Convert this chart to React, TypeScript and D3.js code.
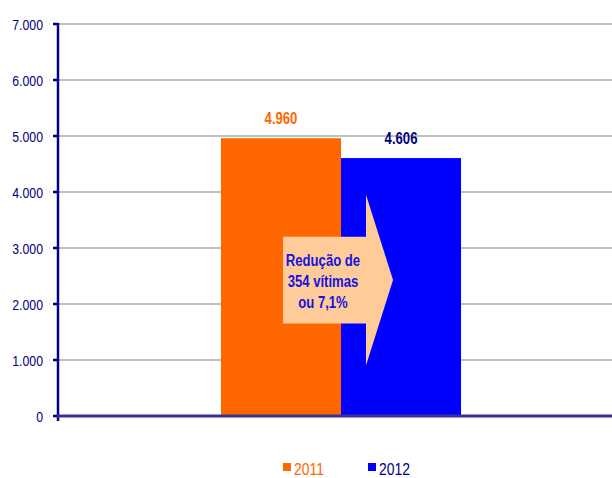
import React from "react";
import * as d3 from "d3";

const categories = ["Vítimas"];
const seriesNames = ["2011", "2012"];
const seriesValues = [4960, 4606];
const valueLabels = ["4.960", "4.606"];
const yTicks = [0, 1000, 2000, 3000, 4000, 5000, 6000, 7000];
const yTickLabels = ["0", "1.000", "2.000", "3.000", "4.000", "5.000", "6.000", "7.000"];
const arrowText = ["Redução de", "354 vítimas", "ou 7,1%"];

const colors = ["#FF6600", "#0000FF"];
const labelColors = ["#FF6600", "#000080"];
const FONT = "'Liberation Sans', Arial, sans-serif";
const SQUEEZE = 0.82;

function NText(props: {
  x: number; y: number; anchor?: "start" | "middle" | "end"; size: number; bold?: boolean; fill: string; children: string;
}) {
  return (
    <text
      transform={`translate(${props.x},${props.y}) scale(${SQUEEZE},1)`}
      textAnchor={props.anchor || "start"}
      fontFamily={FONT}
      fontWeight={props.bold ? "bold" : "normal"}
      fontSize={props.size}
      fill={props.fill}
    >
      {props.children}
    </text>
  );
}

export default function App() {
  const W = 612, H = 478;
  const left = 58, right = 624, top = 24, bottom = 416;
  const y = d3.scaleLinear().domain([0, 7000]).range([bottom, top]);
  const x0 = d3.scaleBand().domain(categories).range([left, right]).paddingInner(0).paddingOuter(0.679);
  const x1 = d3.scaleBand().domain(seriesNames).range([0, x0.bandwidth()]);

  const gx = x0(categories[0])!;
  const cx = gx + x0.bandwidth() / 2;
  const bodyL = cx - 58, bodyR = cx + 25, bodyT = y(3200), bodyB = y(1650);
  const headT = y(3950), headB = y(900), tipX = cx + 52, tipY = y(2430);
  const arrowPath = `M${bodyL},${bodyT} L${bodyR},${bodyT} L${bodyR},${headT} L${tipX},${tipY} L${bodyR},${headB} L${bodyR},${bodyB} L${bodyL},${bodyB} Z`;

  return (
    <svg width={W} height={H} style={{ position: "absolute", left: 0, top: 0, background: "#fff" }}>
      {yTicks.slice(1).map((t) => (
        <line key={"g" + t} x1={left} x2={W} y1={y(t)} y2={y(t)} stroke="#C0C0C0" strokeWidth={2} />
      ))}
      {seriesNames.map((s, i) => (
        <rect key={s} x={gx + x1(s)!} y={y(seriesValues[i])} width={x1.bandwidth()} height={bottom - y(seriesValues[i])} fill={colors[i]} />
      ))}
      {seriesNames.map((s, i) => (
        <NText key={"l" + s} x={gx + x1(s)! + x1.bandwidth() / 2} y={y(seriesValues[i]) - 14} anchor="middle"
          size={16} bold fill={labelColors[i]}>{valueLabels[i]}</NText>
      ))}
      <path d={arrowPath} fill="#FFCC99" />
      {arrowText.map((t, i) => (
        <NText key={"a" + i} x={cx - 18} y={y(2670) + i * 21} anchor="middle" size={16} bold fill="#1414E0">{t}</NText>
      ))}
      <line x1={left} x2={left} y1={top - 1} y2={bottom + 5} stroke="#000080" strokeWidth={2.5} />
      {yTicks.map((t, i) => (
        <g key={"t" + t}>
          <line x1={left - 5} x2={left} y1={y(t)} y2={y(t)} stroke="#000080" strokeWidth={2.5} />
          <NText x={43} y={y(t) + 5.5} anchor="end" size={15} fill="#000080">{yTickLabels[i]}</NText>
        </g>
      ))}
      <line x1={left - 1} x2={W} y1={bottom} y2={bottom} stroke="#333399" strokeWidth={3} />
      {seriesNames.map((s, i) => (
        <g key={"lg" + s} transform={`translate(${283 + i * 85},0)`}>
          <rect x={0} y={463} width={8} height={8} fill={colors[i]} />
          <NText x={11} y={475} size={17} fill={labelColors[i]}>{s}</NText>
        </g>
      ))}
    </svg>
  );
}
